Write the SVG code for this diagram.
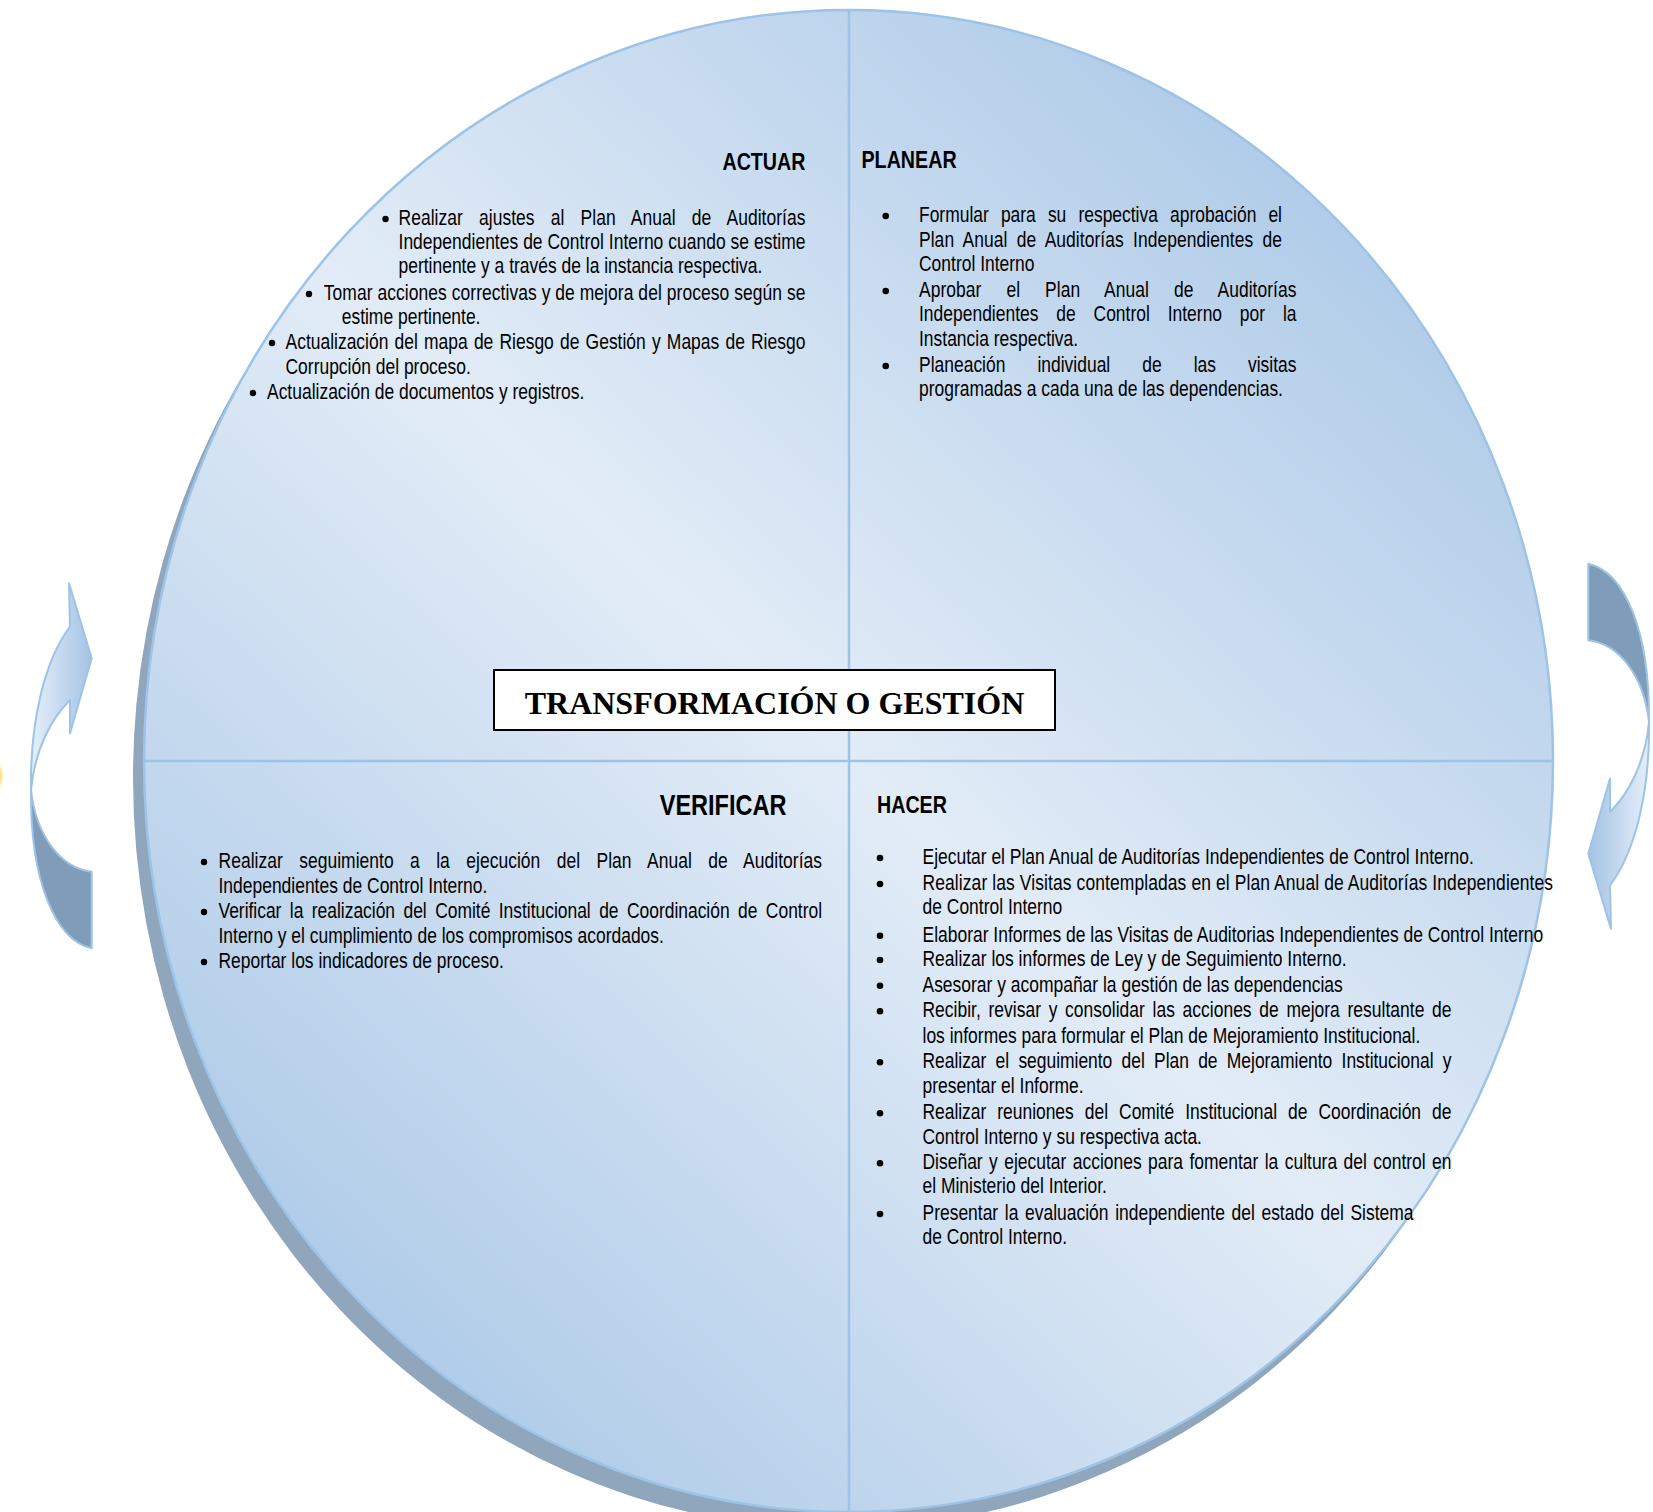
<svg xmlns="http://www.w3.org/2000/svg" width="1653" height="1512" viewBox="0 0 1653 1512">
<defs>
  <linearGradient id="disc" gradientUnits="userSpaceOnUse" x1="1450" y1="120" x2="250" y2="1400">
    <stop offset="0" stop-color="#A7C6E6"/>
    <stop offset="0.5" stop-color="#E2ECF7"/>
    <stop offset="1" stop-color="#A7C6E6"/>
  </linearGradient>
  <linearGradient id="arrowLight" x1="0" y1="0" x2="1" y2="0">
    <stop offset="0" stop-color="#E6EFF9"/>
    <stop offset="1" stop-color="#A3C3E4"/>
  </linearGradient>
  <radialGradient id="glow" cx="0.5" cy="0.5" r="0.5">
    <stop offset="0" stop-color="#FFC000"/>
    <stop offset="0.6" stop-color="#FFD24D" stop-opacity="0.8"/>
    <stop offset="1" stop-color="#FFE699" stop-opacity="0"/>
  </radialGradient>
</defs>
<style>
  .body{font-family:"Liberation Sans",Arial,sans-serif;font-size:21.3px;fill:#000}
  .head{font-family:"Liberation Sans",Arial,sans-serif;font-weight:bold;font-size:24px;fill:#000}
  .title{font-family:"Liberation Serif","Times New Roman",serif;font-weight:bold;font-size:32px;fill:#000}
  .rule{stroke:#9DC3E6;stroke-width:2.5;fill:none}
  .bul{fill:#000}
  .alight{fill:url(#arrowLight);stroke:#9DC3E6;stroke-width:2;stroke-linejoin:round}
  .adark{fill:#7F9DB9;stroke:#9DC3E6;stroke-width:2;stroke-linejoin:round}
</style>

<ellipse cx="-5" cy="776" rx="9" ry="17" fill="url(#glow)"/>

<g id="disc-shape">
  <ellipse cx="837.5" cy="778" rx="704.5" ry="751" fill="#8FA6BD"/>
  <ellipse cx="848.5" cy="761" rx="704.5" ry="751" fill="url(#disc)" stroke="#9DC3E6" stroke-width="2.5"/>
  <line class="rule" x1="849" y1="10" x2="849" y2="1512"/>
  <line class="rule" x1="144" y1="761" x2="1553" y2="761"/>
</g>

<g id="connectors">
  <g id="arrow-left">
    <path class="alight" d="M70,626.7 L69,583.3 L91.7,658.3 L70,733.3 L70,700 C52,718 35,748 31,790 C30,720 45,660 70,626.7 Z"/>
    <path class="adark" d="M31,790 C30,880 55,940 91.7,948.3 L91.7,871.7 C60,868 36,835 31,790 Z"/>
  </g>
  <g id="arrow-right" transform="rotate(180 840 756)">
    <path class="alight" d="M70,626.7 L69,583.3 L91.7,658.3 L70,733.3 L70,700 C52,718 35,748 31,790 C30,720 45,660 70,626.7 Z"/>
    <path class="adark" d="M31,790 C30,880 55,940 91.7,948.3 L91.7,871.7 C60,868 36,835 31,790 Z"/>
  </g>
</g>

<g id="actuar">
  <text class="head" text-anchor="end" transform="translate(805.5 170) scale(0.82 1)">ACTUAR</text>
  <circle class="bul" cx="385.5" cy="219" r="3.2"/>
  <circle class="bul" cx="309" cy="294" r="3.2"/>
  <circle class="bul" cx="272" cy="343" r="3.2"/>
  <circle class="bul" cx="253" cy="393" r="3.2"/>
  <text class="body" transform="translate(398.5 225) scale(0.82 1)" word-spacing="13.7" textLength="496.3" lengthAdjust="spacing">Realizar ajustes al Plan Anual de Auditorías</text>
  <text class="body" transform="translate(398.5 249) scale(0.82 1)" textLength="496.3" lengthAdjust="spacing">Independientes de Control Interno cuando se estime</text>
  <text class="body" transform="translate(398.5 273) scale(0.82 1)">pertinente y a través de la instancia respectiva.</text>
  <text class="body" transform="translate(323.8 300) scale(0.82 1)" textLength="587.3" lengthAdjust="spacing">Tomar acciones correctivas y de mejora del proceso según se</text>
  <text class="body" transform="translate(341.7 324) scale(0.82 1)">estime pertinente.</text>
  <text class="body" transform="translate(285.5 349) scale(0.82 1)" word-spacing="1.6" textLength="634" lengthAdjust="spacing">Actualización del mapa de Riesgo de Gestión y Mapas de Riesgo</text>
  <text class="body" transform="translate(285.5 374) scale(0.82 1)">Corrupción del proceso.</text>
  <text class="body" transform="translate(267 399) scale(0.82 1)">Actualización de documentos y registros.</text>
</g>

<g id="planear">
  <text class="head" transform="translate(861.5 168) scale(0.82 1)">PLANEAR</text>
  <circle class="bul" cx="885.7" cy="216" r="3.3"/>
  <circle class="bul" cx="885.7" cy="291" r="3.3"/>
  <circle class="bul" cx="885.7" cy="366" r="3.3"/>
  <text class="body" transform="translate(919 221.7) scale(0.82 1)" word-spacing="8.8" textLength="442.7" lengthAdjust="spacing">Formular para su respectiva aprobación el</text>
  <text class="body" transform="translate(919 246.5) scale(0.82 1)" word-spacing="5.4" textLength="442.7" lengthAdjust="spacing">Plan Anual de Auditorías Independientes de</text>
  <text class="body" transform="translate(919 271) scale(0.82 1)">Control Interno</text>
  <text class="body" transform="translate(919 296.5) scale(0.82 1)" word-spacing="24.4" textLength="460.4" lengthAdjust="spacing">Aprobar el Plan Anual de Auditorías</text>
  <text class="body" transform="translate(919 321) scale(0.82 1)" word-spacing="15.8" textLength="460.4" lengthAdjust="spacing">Independientes de Control Interno por la</text>
  <text class="body" transform="translate(919 345.5) scale(0.82 1)">Instancia respectiva.</text>
  <text class="body" transform="translate(919 371.5) scale(0.82 1)" word-spacing="33.1" textLength="460.4" lengthAdjust="spacing">Planeación individual de las visitas</text>
  <text class="body" transform="translate(919 396) scale(0.82 1)">programadas a cada una de las dependencias.</text>
</g>

<g id="title">
  <rect x="494" y="670" width="561" height="60" fill="#FFFFFF" stroke="#000" stroke-width="2"/>
  <text class="title" x="774.5" y="714" text-anchor="middle">TRANSFORMACIÓN O GESTIÓN</text>
</g>

<g id="verificar">
  <text class="head" style="font-size:28.7px" text-anchor="end" transform="translate(786.5 815) scale(0.82 1)">VERIFICAR</text>
  <circle class="bul" cx="204" cy="862" r="3.2"/>
  <circle class="bul" cx="204" cy="912" r="3.2"/>
  <circle class="bul" cx="204" cy="962" r="3.2"/>
  <text class="body" transform="translate(218.5 868) scale(0.82 1)" word-spacing="14" textLength="736" lengthAdjust="spacing">Realizar seguimiento a la ejecución del Plan Anual de Auditorías</text>
  <text class="body" transform="translate(218.5 893) scale(0.82 1)">Independientes de Control Interno.</text>
  <text class="body" transform="translate(218.5 918) scale(0.82 1)" word-spacing="4.4" textLength="736" lengthAdjust="spacing">Verificar la realización del Comité Institucional de Coordinación de Control</text>
  <text class="body" transform="translate(218.5 943) scale(0.82 1)">Interno y el cumplimiento de los compromisos acordados.</text>
  <text class="body" transform="translate(218.5 968) scale(0.82 1)">Reportar los indicadores de proceso.</text>
</g>

<g id="hacer">
  <text class="head" transform="translate(877 813) scale(0.82 1)">HACER</text>
  <circle class="bul" cx="880" cy="858" r="3.3"/>
  <circle class="bul" cx="880" cy="884" r="3.3"/>
  <circle class="bul" cx="880" cy="935.7" r="3.3"/>
  <circle class="bul" cx="880" cy="960" r="3.3"/>
  <circle class="bul" cx="880" cy="985.7" r="3.3"/>
  <circle class="bul" cx="880" cy="1011.3" r="3.3"/>
  <circle class="bul" cx="880" cy="1062.3" r="3.3"/>
  <circle class="bul" cx="880" cy="1113.3" r="3.3"/>
  <circle class="bul" cx="880" cy="1163.3" r="3.3"/>
  <circle class="bul" cx="880" cy="1214" r="3.3"/>
  <text class="body" transform="translate(922.5 864) scale(0.82 1)">Ejecutar el Plan Anual de Auditorías Independientes de Control Interno.</text>
  <text class="body" transform="translate(922.5 890) scale(0.82 1)" textLength="768.9" lengthAdjust="spacing">Realizar las Visitas contempladas en el Plan Anual de Auditorías Independientes</text>
  <text class="body" transform="translate(922.5 914) scale(0.82 1)">de Control Interno</text>
  <text class="body" transform="translate(922.5 941.7) scale(0.82 1)">Elaborar Informes de las Visitas de Auditorias Independientes de Control Interno</text>
  <text class="body" transform="translate(922.5 966) scale(0.82 1)">Realizar los informes de Ley y de Seguimiento Interno.</text>
  <text class="body" transform="translate(922.5 991.7) scale(0.82 1)">Asesorar y acompañar la gestión de las dependencias</text>
  <text class="body" transform="translate(922.5 1017.3) scale(0.82 1)" word-spacing="3.4" textLength="645.1" lengthAdjust="spacing">Recibir, revisar y consolidar las acciones de mejora resultante de</text>
  <text class="body" transform="translate(922.5 1042.7) scale(0.82 1)">los informes para formular el Plan de Mejoramiento Institucional.</text>
  <text class="body" transform="translate(922.5 1068.3) scale(0.82 1)" word-spacing="5.4" textLength="645.1" lengthAdjust="spacing">Realizar el seguimiento del Plan de Mejoramiento Institucional y</text>
  <text class="body" transform="translate(922.5 1093.3) scale(0.82 1)">presentar el Informe.</text>
  <text class="body" transform="translate(922.5 1119.3) scale(0.82 1)" word-spacing="7.6" textLength="645.1" lengthAdjust="spacing">Realizar reuniones del Comité Institucional de Coordinación de</text>
  <text class="body" transform="translate(922.5 1144) scale(0.82 1)">Control Interno y su respectiva acta.</text>
  <text class="body" transform="translate(922.5 1169.3) scale(0.82 1)" word-spacing="1.9" textLength="645.1" lengthAdjust="spacing">Diseñar y ejecutar acciones para fomentar la cultura del control en</text>
  <text class="body" transform="translate(922.5 1193.3) scale(0.82 1)">el Ministerio del Interior.</text>
  <text class="body" transform="translate(922.5 1220) scale(0.82 1)" word-spacing="2.2" textLength="598.8" lengthAdjust="spacing">Presentar la evaluación independiente del estado del Sistema</text>
  <text class="body" transform="translate(922.5 1244) scale(0.82 1)">de Control Interno.</text>
</g>
</svg>
